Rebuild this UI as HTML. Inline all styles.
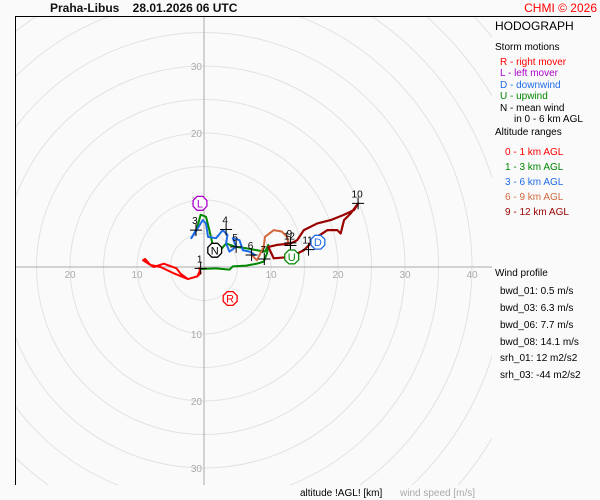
<!DOCTYPE html>
<html><head><meta charset="utf-8"><style>
html,body{margin:0;padding:0;background:#fafafa;overflow:hidden;width:600px;height:500px;}
svg{display:block;font-family:"Liberation Sans",sans-serif;}
</style></head><body>
<svg width="600" height="500" viewBox="0 0 600 500">
<rect x="0" y="0" width="600" height="500" fill="#fafafa"/>
<text x="50" y="12" font-size="12" font-weight="bold" fill="#111">Praha-Libus&#160;&#160;&#160;&#160;28.01.2026 06 UTC</text>
<text x="597" y="12" font-size="12" fill="#ff0000" text-anchor="end">CHMI © 2026</text>
<defs><clipPath id="pc"><rect x="15" y="17" width="477" height="468"/></clipPath></defs>
<g id="grid" clip-path="url(#pc)"></g>
<line x1="15" y1="16.5" x2="591" y2="16.5" stroke="#000" stroke-width="1"/>
<line x1="15.5" y1="16" x2="15.5" y2="485" stroke="#000" stroke-width="1"/>
<g id="series"></g>
<g id="legend">
<text x="495" y="30" font-size="12" fill="#000">HODOGRAPH</text>
<text x="495" y="50" font-size="10" fill="#000">Storm motions</text>
<text x="500" y="65" font-size="10" fill="#ff0000">R - right mover</text>
<text x="500" y="76" font-size="10" fill="#aa00cc">L - left mover</text>
<text x="500" y="88" font-size="10" fill="#1e6be6">D - downwind</text>
<text x="500" y="99" font-size="10" fill="#008800">U - upwind</text>
<text x="500" y="111" font-size="10" fill="#000">N - mean wind</text>
<text x="514" y="122" font-size="10" fill="#000">in 0 - 6 km AGL</text>
<text x="495" y="135" font-size="10" fill="#000">Altitude ranges</text>
<text x="505" y="155" font-size="10" fill="#ff0000">0 - 1 km AGL</text>
<text x="505" y="170" font-size="10" fill="#008800">1 - 3 km AGL</text>
<text x="505" y="185" font-size="10" fill="#1e6be6">3 - 6 km AGL</text>
<text x="505" y="200" font-size="10" fill="#d2693c">6 - 9 km AGL</text>
<text x="505" y="215" font-size="10" fill="#990000">9 - 12 km AGL</text>
<text x="495" y="276" font-size="10" fill="#000">Wind profile</text>
<text x="500" y="294" font-size="10" fill="#000">bwd_01: 0.5 m/s</text>
<text x="500" y="311" font-size="10" fill="#000">bwd_03: 6.3 m/s</text>
<text x="500" y="328" font-size="10" fill="#000">bwd_06: 7.7 m/s</text>
<text x="500" y="345" font-size="10" fill="#000">bwd_08: 14.1 m/s</text>
<text x="500" y="361" font-size="10" fill="#000">srh_01: 12 m2/s2</text>
<text x="500" y="378" font-size="10" fill="#000">srh_03: -44 m2/s2</text>
</g>
<text x="300" y="496" font-size="10" fill="#000">altitude !AGL! [km]</text>
<text x="400" y="496" font-size="10" fill="#aaa">wind speed [m/s]</text>
</svg>
<script>
const CX=204, CY=267, S=6.7;
const ringSpeeds=[5,10,15,20,25,30,35,40,45,50,55,60,65,70];
const xTickLabels=[-20,-10,10,20,30,40];
const yTickLabels=[30,20,10,-10,-20,-30];
const seg01=[[-0.7,-0.2],[-0.5,-0.9],[-1.0,-1.4],[-2.4,-1.8],[-3.5,-1.0],[-4.1,-0.2],[-6.0,0.5],[-7.5,0.0],[-9.1,1.0],[-8.8,1.2],[-8.0,0.3],[-6.5,0.0],[-4.6,-0.9],[-2.4,-1.8],[-1.0,-1.4],[-0.5,-0.3]];
const seg13=[[-0.5,-0.3],[1.8,-0.2],[3.8,-0.4],[4.3,0.1],[6.3,0.2],[7.9,0.5],[8.9,0.8],[9.4,2.0],[9.6,3.3],[9.1,2.3],[7.9,2.5],[6.3,2.8],[4.8,3.0],[3.3,3.5],[1.8,1.8],[1.3,2.0],[1.3,3.3],[0.8,5.5],[0.3,7.5],[-0.5,7.8],[-1.0,6.0],[-1.2,5.5]];
const seg36=[[-1.2,5.5],[-1.9,4.3],[-1.4,5.0],[-0.2,7.0],[0.3,6.5],[0.6,4.5],[1.8,4.3],[2.8,5.5],[3.5,4.8],[3.3,3.5],[3.8,2.3],[4.8,3.0],[4.3,4.3],[5.3,4.0],[5.8,2.5],[6.8,2.3],[7.6,1.8],[7.1,1.8]];
const seg69=[[7.1,1.8],[7.9,1.0],[8.4,2.0],[8.9,3.0],[9.1,4.5],[10.4,5.5],[11.6,5.3],[12.4,4.5],[12.6,3.5],[12.9,3.5]];
const seg912=[[12.9,3.5],[13.9,4.0],[14.9,5.5],[16.9,6.5],[18.9,7.0],[20.9,7.8],[22.4,8.5],[23.0,9.5],[21.9,8.0],[20.9,7.0],[20.4,5.0],[19.9,5.5],[18.4,5.5],[16.9,4.5],[15.9,3.5],[14.9,2.5],[12.9,1.5],[10.4,1.3],[9.6,3.0],[10.9,3.3],[12.9,3.5]];
const heightLabels=["1","3","4","5","6","7","9","10","11","12"];
const heightU=[-0.5,-1.2,3.3,4.8,7.1,9.0,12.9,23.0,15.6,12.9];
const heightV=[-0.2,5.5,5.6,3.0,1.8,1.2,3.6,9.5,2.6,3.2];
const stormLabels=["R","L","D","U","N"];
const stormU=[3.9,-0.6,17.0,13.1,1.6];
const stormV=[-4.7,9.5,3.7,1.5,2.5];
const stormColors=["#ff0000","#aa00cc","#1e6be6","#008800","#000"];
const NS="http://www.w3.org/2000/svg";
const xs=u=>CX+u*S, ys=v=>CY-v*S;
function mk(tag,attrs,parent,text){const e=document.createElementNS(NS,tag);for(const k in attrs)e.setAttribute(k,attrs[k]);if(text!==undefined)e.textContent=text;parent.appendChild(e);return e;}
const grid=document.getElementById('grid'), ser=document.getElementById('series');
ringSpeeds.forEach(r=>{const c=mk('circle',{cx:CX,cy:CY,r:r*S,fill:'none',stroke:'#e2e2e2','stroke-width':1},grid);

});
const ax=mk('line',{x1:15,y1:CY,x2:492,y2:CY,stroke:'#aaa','stroke-width':1},grid);


const ay=mk('line',{x1:CX,y1:17,x2:CX,y2:485,stroke:'#aaa','stroke-width':1},grid);


xTickLabels.forEach(t=>{const e=mk('text',{x:xs(t),y:CY+11,'font-size':10,fill:'#aaa','text-anchor':'middle'},grid,String(Math.abs(t)));

});
yTickLabels.forEach(t=>{const e=mk('text',{x:CX-2,y:ys(t)+4,'font-size':10,fill:'#aaa','text-anchor':'end'},grid,String(Math.abs(t)));

});
function line(pts,color,w,name){const p=mk('polyline',{points:pts.map(q=>xs(q[0])+','+ys(q[1])).join(' '),fill:'none',stroke:color,'stroke-width':w,'stroke-linejoin':'round','stroke-linecap':'round'},ser);

}
line(seg01,'#ff0000',2,'series-0-1km');
line(seg13,'#008800',2,'series-1-3km');
line(seg36,'#1e6be6',2,'series-3-6km');
line(seg69,'#d2693c',2,'series-6-9km');
line(seg912,'#990000',2.2,'series-9-12km');
heightLabels.forEach((l,i)=>{const x=xs(heightU[i]),y=ys(heightV[i]);
const g=mk('g',{},ser);


mk('path',{d:`M${x-6} ${y}H${x+6}M${x} ${y-6}V${y+6}`,stroke:'#000','stroke-width':1},g);
mk('text',{x:x-1,y:y-6,'font-size':10,fill:'#000','text-anchor':'middle'},g,l);});
stormLabels.forEach((l,i)=>{const x=xs(stormU[i]),y=ys(stormV[i]);const r=7.5;const pts=[];
for(let k=0;k<8;k++){const a=Math.PI/8+k*Math.PI/4;pts.push((x+r*Math.cos(a)).toFixed(1)+','+(y+r*Math.sin(a)).toFixed(1));}
const g=mk('g',{},ser);


mk('polygon',{points:pts.join(' '),fill:'#fff',stroke:stormColors[i],'stroke-width':1.3},g);
mk('text',{x:x,y:y+4,'font-size':11,fill:stormColors[i],'text-anchor':'middle'},g,l);});
</script>
</body></html>
